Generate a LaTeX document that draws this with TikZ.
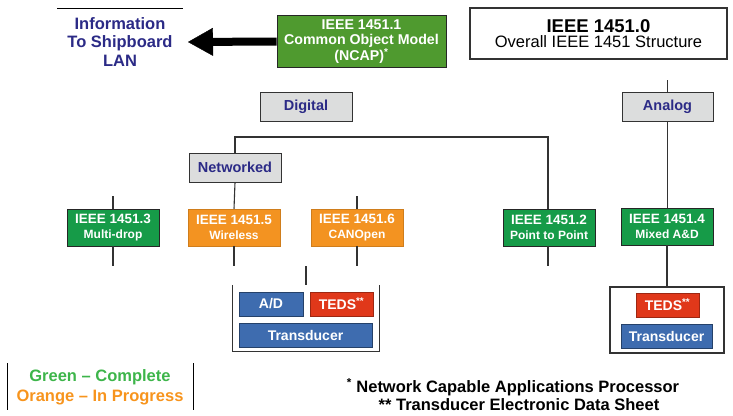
\documentclass[tikz,border=0pt]{standalone}
\usepackage{fontspec}
\setmainfont{Liberation Sans}
\usetikzlibrary{arrows.meta}

\definecolor{ncapgreen}{HTML}{4F9A2F}
\definecolor{donegreen}{HTML}{169B48}
\definecolor{progorange}{HTML}{F39321}
\definecolor{labelgrey}{HTML}{DCDDDD}
\definecolor{navytext}{HTML}{2B2A86}
\definecolor{partblue}{HTML}{3E6CAF}
\definecolor{tedsred}{HTML}{E0381A}
\definecolor{legendgreen}{HTML}{3DB54A}
\definecolor{legendorange}{HTML}{F7941D}
\definecolor{wiregrey}{HTML}{333333}

\newcommand\boxsub[1]{{\fontsize{12}{15}\selectfont #1}}

\begin{document}
\begin{tikzpicture}[x=1pt,y=-1pt,
  stdbox/.style={minimum width=92pt, minimum height=37pt, inner sep=0pt,
    align=center, text=white, font=\bfseries\fontsize{13.5}{15}\selectfont},
  donebox/.style={stdbox, fill=donegreen, draw=black!85, line width=0.8pt},
  progbox/.style={stdbox, fill=progorange, draw=progorange!85!black, line width=0.5pt},
  catbox/.style={fill=labelgrey, draw=black!80, line width=1pt, text=navytext,
    font=\bfseries\fontsize{14.5}{16}\selectfont, inner sep=0pt,
    minimum width=92pt, minimum height=29pt},
  partbox/.style={text=white, inner sep=0pt, minimum height=24pt,
    font=\bfseries\fontsize{14}{16}\selectfont},
  bluepart/.style={partbox, fill=partblue, draw=partblue!60!black, line width=0.6pt},
  redpart/.style={partbox, fill=tedsred, draw=tedsred!70!black, line width=0.6pt},
  wire/.style={draw=wiregrey, line width=1.1pt},
  frame/.style={draw=wiregrey, line width=1.2pt}
]
\useasboundingbox (0,0) rectangle (733,415);

% --- top row --------------------------------------------------------
\draw[line width=0.8pt] (57,8) -- (183,8);
\node[text=navytext, align=center, font=\bfseries\fontsize{16.5}{18.5}\selectfont]
  (lan) at (120,42) {Information\\To Shipboard\\LAN};

\node[fill=ncapgreen, draw=black!85, line width=0.8pt, text=white, align=center,
  minimum width=169pt, minimum height=52pt, inner sep=0pt,
  font=\bfseries\fontsize{14.2}{15.5}\selectfont]
  (ncap) at (361.5,41.5) {IEEE 1451.1\\Common Object Model\\(NCAP)\textsuperscript{*}};

\coordinate (lantip) at (188,42);
\draw[line width=8pt, -{Triangle[length=25pt,width=28pt,line width=0.4pt]}]
  (ncap.west) -- (lantip);

\node[draw=wiregrey, line width=1.2pt, fill=white, align=center,
  minimum width=257pt, minimum height=51pt, inner sep=0pt]
  (overall) at (598.5,33.5)
  {{\bfseries\fontsize{18.5}{20}\selectfont IEEE 1451.0}\\[2pt]
   {\fontsize{16.5}{18}\selectfont Overall IEEE 1451 Structure}};

% --- category labels --------------------------------------------------
\node[catbox] (digital) at (306,106.5) {Digital};
\node[catbox, minimum width=91pt] (analog) at (667.5,106.5) {Analog};
\node[catbox] (networked) at (235,167.5) {Networked};

% --- standard boxes ---------------------------------------------------
\node[donebox] (p3) at (113,227.5) {IEEE 1451.3\\\boxsub{Multi-drop}};
\node[progbox] (p5) at (234,227.5) {IEEE 1451.5\\\boxsub{Wireless}};
\node[progbox] (p6) at (357,227.5) {IEEE 1451.6\\\boxsub{CANOpen}};
\node[donebox] (p2) at (549,227.5) {IEEE 1451.2\\\boxsub{Point to Point}};
\node[donebox] (p4) at (667,226.5) {IEEE 1451.4\\\boxsub{Mixed A\&D}};

% --- digital bus ------------------------------------------------------
\coordinate (busR) at (548,137);
\draw[wire] (networked.north) |- (busR) -- (p2.north -| busR);
\draw[wire] (networked.south) -- (p5.north);

% short stubs above and below the boxes
\coordinate (p3up) at (113,196);
\coordinate (p6up) at (357,196);
\coordinate (p3dn) at (113,266);
\coordinate (p5dn) at (234,266);
\coordinate (p6dn) at (357,266);
\coordinate (p2dn) at (548,266);
\draw[wire] (p3up) -- (p3.north);
\draw[wire] (p6up) -- (p6.north);
\draw[wire] (p3.south) -- (p3dn);
\draw[wire] (p5.south) -- (p5dn);
\draw[wire] (p6.south) -- (p6dn);
\draw[wire] (p2.south -| p2dn) -- (p2dn);

% --- analog branch ----------------------------------------------------
\coordinate (analogup) at (667.5,80);
\draw[wire] (analogup) -- (analog.north);
\draw[wire] (analog.south) -- (p4.north -| analog.south);

% --- transducer module (networked) ------------------------------------
\node[minimum width=146pt, minimum height=66pt, inner sep=0pt] (lmod) at (306,318) {};
\draw[frame] (lmod.north west) -- (lmod.south west) -- (lmod.south east) -- (lmod.north east);
\coordinate (lmodup) at (306,266);
\draw[wire] (lmodup) -- (lmod.north);

\node[bluepart, minimum width=64pt] (adL) at (271,304) {A/D};
\node[redpart, minimum width=63pt] (tedsL) at (341.5,304) {TEDS\textsuperscript{**}};
\node[bluepart, minimum width=133pt] (transL) at (305.5,335) {Transducer};

% --- transducer module (mixed-mode) -----------------------------------
\node[frame, fill=white, minimum width=114pt, minimum height=66pt, inner sep=0pt]
  (rmod) at (667,320) {};
\draw[wire] (p4.south) -- (rmod.north -| p4.south);
\node[redpart, minimum width=63pt] (tedsR) at (667.5,305) {TEDS\textsuperscript{**}};
\node[bluepart, minimum width=91pt] (transR) at (666.5,336) {Transducer};

% --- legend -----------------------------------------------------------
\coordinate (legLt) at (7,363);
\coordinate (legLb) at (7,410);
\coordinate (legRt) at (193,363);
\coordinate (legRb) at (193,410);
\draw[line width=1pt] (legLt) -- (legLb);
\draw[line width=1pt] (legRt) -- (legRb);
\node[text=legendgreen, font=\bfseries\fontsize{16.5}{18}\selectfont]
  (legdone) at (100,377) {Green -- Complete};
\node[text=legendorange, font=\bfseries\fontsize{16.5}{18}\selectfont]
  (legprog) at (100,397) {Orange -- In Progress};

% --- footnotes --------------------------------------------------------
\node[font=\bfseries\fontsize{16.5}{18}\selectfont]
  (fn1) at (513,387) {\textsuperscript{*} Network Capable Applications Processor};
\node[font=\bfseries\fontsize{16.5}{18}\selectfont]
  (fn2) at (519,405) {** Transducer Electronic Data Sheet};
\end{tikzpicture}
\end{document}
